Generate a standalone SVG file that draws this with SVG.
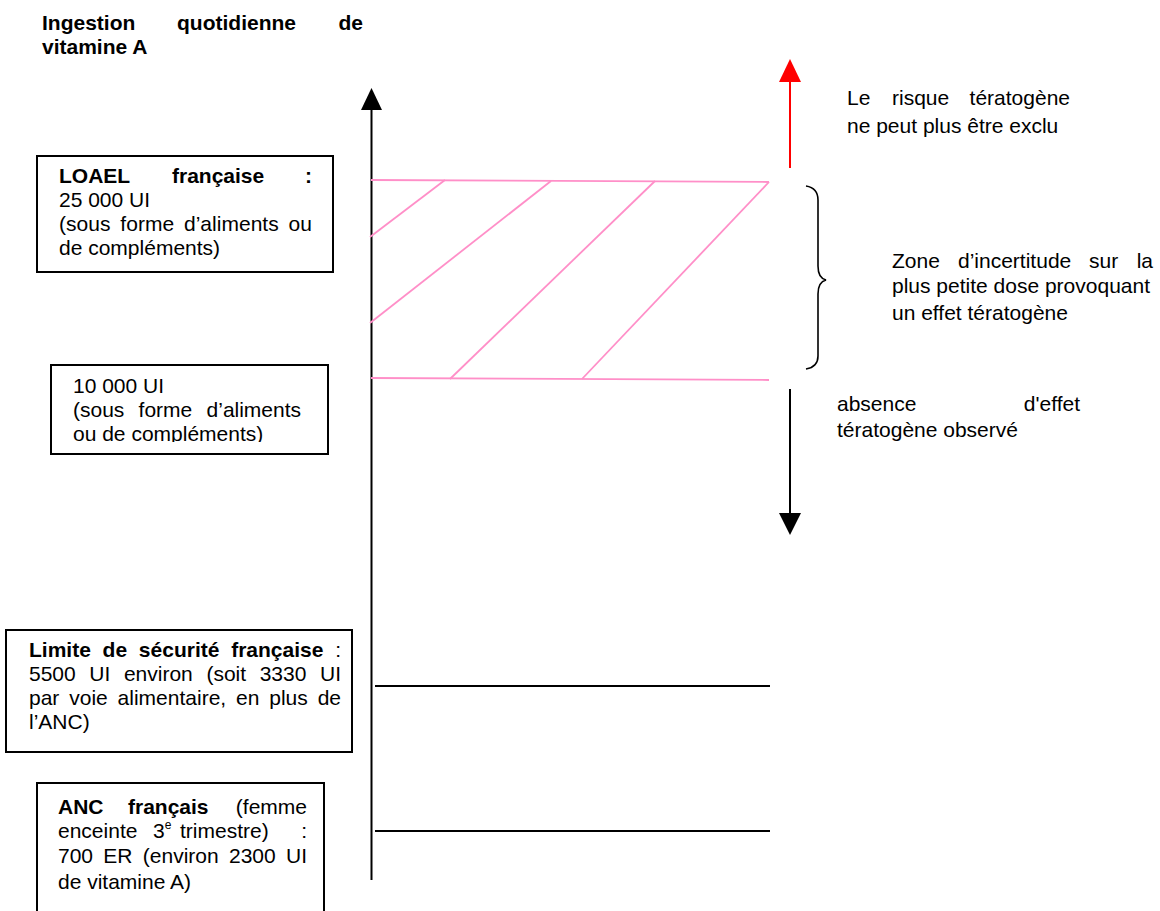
<svg xmlns="http://www.w3.org/2000/svg" width="1160" height="911" viewBox="0 0 1160 911">
<defs>
<style>
.t{font-family:"Liberation Sans",Arial,sans-serif;font-size:21px;fill:#000}
.b{font-weight:bold}
.box{fill:#fff;stroke:#000;stroke-width:2}
.pk{stroke:#ff8fc8;stroke-width:1.8;fill:none}
.blk{stroke:#000;stroke-width:2;fill:none}
</style>
<clipPath id="clip2"><rect x="51" y="365" width="277" height="77"/></clipPath>
</defs>
<rect width="1160" height="911" fill="#fff"/>

<g id="title">
<text class="t b" x="42" y="30">Ingestion</text>
<text class="t b" x="177" y="30">quotidienne</text>
<text class="t b" x="363" y="30" text-anchor="end">de</text>
<text class="t b" x="42" y="54">vitamine A</text>
</g>

<g id="connectors">
<line class="blk" x1="371.5" y1="106" x2="371.5" y2="880"/>
<polygon points="371.5,88 361,110 382,110" fill="#000"/>
<line class="pk" x1="371" y1="180" x2="769" y2="182"/>
<line class="pk" x1="371" y1="378" x2="769" y2="380"/>
<line class="pk" x1="370" y1="237" x2="445" y2="180"/>
<line class="pk" x1="370" y1="323" x2="551" y2="181"/>
<line class="pk" x1="450" y1="379" x2="655" y2="181"/>
<line class="pk" x1="582" y1="379" x2="769" y2="182"/>
<line class="blk" x1="375" y1="686" x2="770" y2="686"/>
<line class="blk" x1="375" y1="831" x2="770" y2="831"/>
<line x1="790" y1="168" x2="790" y2="78" stroke="#ff0000" stroke-width="2"/>
<polygon points="790,59 779,82 801,82" fill="#ff0000"/>
<line class="blk" x1="790" y1="389" x2="790" y2="516"/>
<polygon points="790,535 779,513 801,513" fill="#000"/>
<path d="M806,186 Q818,188 818,200 V266 Q818,278 826,280 Q818,282 818,294 V356 Q818,367 806,369" stroke="#000" stroke-width="1.6" fill="none"/>
</g>

<g id="loael">
<rect class="box" x="37" y="156" width="296" height="116"/>
<text class="t b" x="59" y="183">LOAEL</text>
<text class="t b" x="172" y="183">française</text>
<text class="t b" x="312" y="183" text-anchor="end">:</text>
<text class="t" x="59" y="207">25 000 UI</text>
<text class="t" x="59" y="231" word-spacing="4" textLength="253" lengthAdjust="spacing">(sous forme d’aliments ou</text>
<text class="t" x="59" y="255">de compléments)</text>
</g>

<g id="noael">
<rect class="box" x="51" y="365" width="277" height="89"/>
<text class="t" x="73" y="393">10 000 UI</text>
<text class="t" x="73" y="417" word-spacing="8.5" textLength="228" lengthAdjust="spacing">(sous forme d’aliments</text>
<g clip-path="url(#clip2)"><text class="t" x="73" y="441">ou de compléments)</text></g>
</g>

<g id="limite">
<rect class="box" x="6" y="630" width="346" height="122"/>
<text class="t" x="29" y="657" word-spacing="5.9" textLength="312" lengthAdjust="spacing"><tspan class="b">Limite de sécurité française</tspan> :</text>
<text class="t" x="29" y="681" word-spacing="7.8" textLength="312" lengthAdjust="spacing">5500 UI environ (soit 3330 UI</text>
<text class="t" x="29" y="705" word-spacing="4" textLength="312" lengthAdjust="spacing">par voie alimentaire, en plus de</text>
<text class="t" x="29" y="729">l’ANC)</text>
</g>

<g id="anc">
<path class="box" d="M37,920 V783 H324 V920"/>
<text class="t b" x="58" y="814">ANC</text>
<text class="t b" x="128" y="814">français</text>
<text class="t" x="307" y="814" text-anchor="end">(femme</text>
<text class="t" x="58" y="838">enceinte</text>
<text class="t" x="153" y="838">3<tspan font-size="12" dy="-9">e</tspan></text>
<text class="t" x="180" y="838">trimestre)</text>
<text class="t" x="307" y="838" text-anchor="end">:</text>
<text class="t" x="58" y="863" word-spacing="4.5" textLength="249" lengthAdjust="spacing">700 ER (environ 2300 UI</text>
<text class="t" x="58" y="889">de vitamine A)</text>
</g>

<g id="risque">
<text class="t" x="847" y="105">Le</text>
<text class="t" x="892" y="105">risque</text>
<text class="t" x="1070" y="105" text-anchor="end">tératogène</text>
<text class="t" x="847" y="133">ne peut plus être exclu</text>
</g>

<g id="zone">
<text class="t" x="892" y="268">Zone</text>
<text class="t" x="958" y="268">d’incertitude</text>
<text class="t" x="1089" y="268">sur</text>
<text class="t" x="1153" y="268" text-anchor="end">la</text>
<text class="t" x="892" y="293">plus petite dose provoquant</text>
<text class="t" x="892" y="320">un effet tératogène</text>
</g>

<g id="absence">
<text class="t" x="837" y="411">absence</text>
<text class="t" x="1080" y="411" text-anchor="end">d'effet</text>
<text class="t" x="837" y="437">tératogène observé</text>
</g>
</svg>
